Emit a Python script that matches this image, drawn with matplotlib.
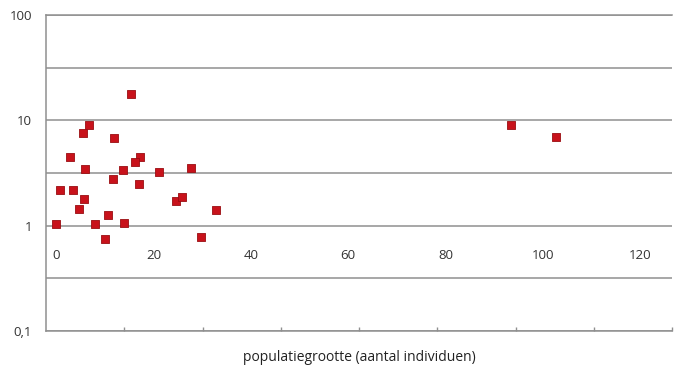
import matplotlib.pyplot as plt
import matplotlib.transforms as mtransforms
import numpy as np

plt.rcParams["font.family"] = ["Open Sans", "DejaVu Sans"]

# populatiegrootte vs. waarde (log schaal)
populatie = [15.4, 6.8, 5.5, 11.9, 2.9, 6.0, 17.2, 16.2, 13.8, 27.7, 21.1, 11.7,
             17.0, 0.8, 3.5, 5.7, 24.6, 25.9, 4.7, 32.9, 10.7, 0.0, 8.0, 14.0,
             10.1, 29.8, 93.4, 102.7]
waarde = [17.8, 9.0, 7.6, 6.8, 4.5, 3.45, 4.5, 4.0, 3.4, 3.5, 3.2, 2.8,
          2.5, 2.2, 2.2, 1.8, 1.7, 1.87, 1.44, 1.41, 1.26, 1.03, 1.03, 1.05,
          0.75, 0.78, 9.0, 6.9]

x_ticks = [0, 20, 40, 60, 80, 100, 120]
y_ticks = [0.1, 1, 10, 100]
y_labels = ["0,1", "1", "10", "100"]

grey = "#8f8f8f"

fig = plt.figure(figsize=(6.79, 3.67), dpi=100)
ax = fig.add_axes([46 / 679, 36 / 367, 626 / 679, 316 / 367])

ax.scatter(populatie, waarde, marker="s", s=34, color="#c8121b",
           edgecolor="#9a0d12", linewidth=0.6, zorder=3)

ax.set_yscale("log")
ax.set_ylim(0.1, 100)
ax.set_xlim(-2.05, 126.5)

ax.set_yticks(y_ticks)
ax.set_yticklabels(y_labels)
ax.set_yticks([10 ** (k / 2) for k in range(-2, 5)], minor=True)
ax.yaxis.set_minor_formatter(plt.NullFormatter())
ax.grid(axis="y", which="both", color=grey, linewidth=1.1)
ax.tick_params(axis="y", which="both", length=0, pad=10, labelsize=9.5,
               labelcolor="#333333")

# small ticks on the bottom line
xmin, xmax = ax.get_xlim()
ax.set_xticks(np.linspace(xmin, xmax, 9)[1:])
ax.set_xticklabels([])
ax.tick_params(axis="x", direction="in", length=3, color=grey, width=1)

trans = mtransforms.blended_transform_factory(ax.transData, ax.transAxes)
for t in x_ticks:
    ax.text(t, 0.24, str(t), transform=trans, ha="center", va="center",
            fontsize=9.5, color="#333333")

for side in ["left", "bottom", "top"]:
    ax.spines[side].set_color(grey)
    ax.spines[side].set_linewidth(1.1)
ax.spines["right"].set_visible(False)

ax.set_xlabel("populatiegrootte (aantal individuen)", fontsize=10,
              color="#222222", labelpad=10)

fig.savefig("out.png", dpi=100)
